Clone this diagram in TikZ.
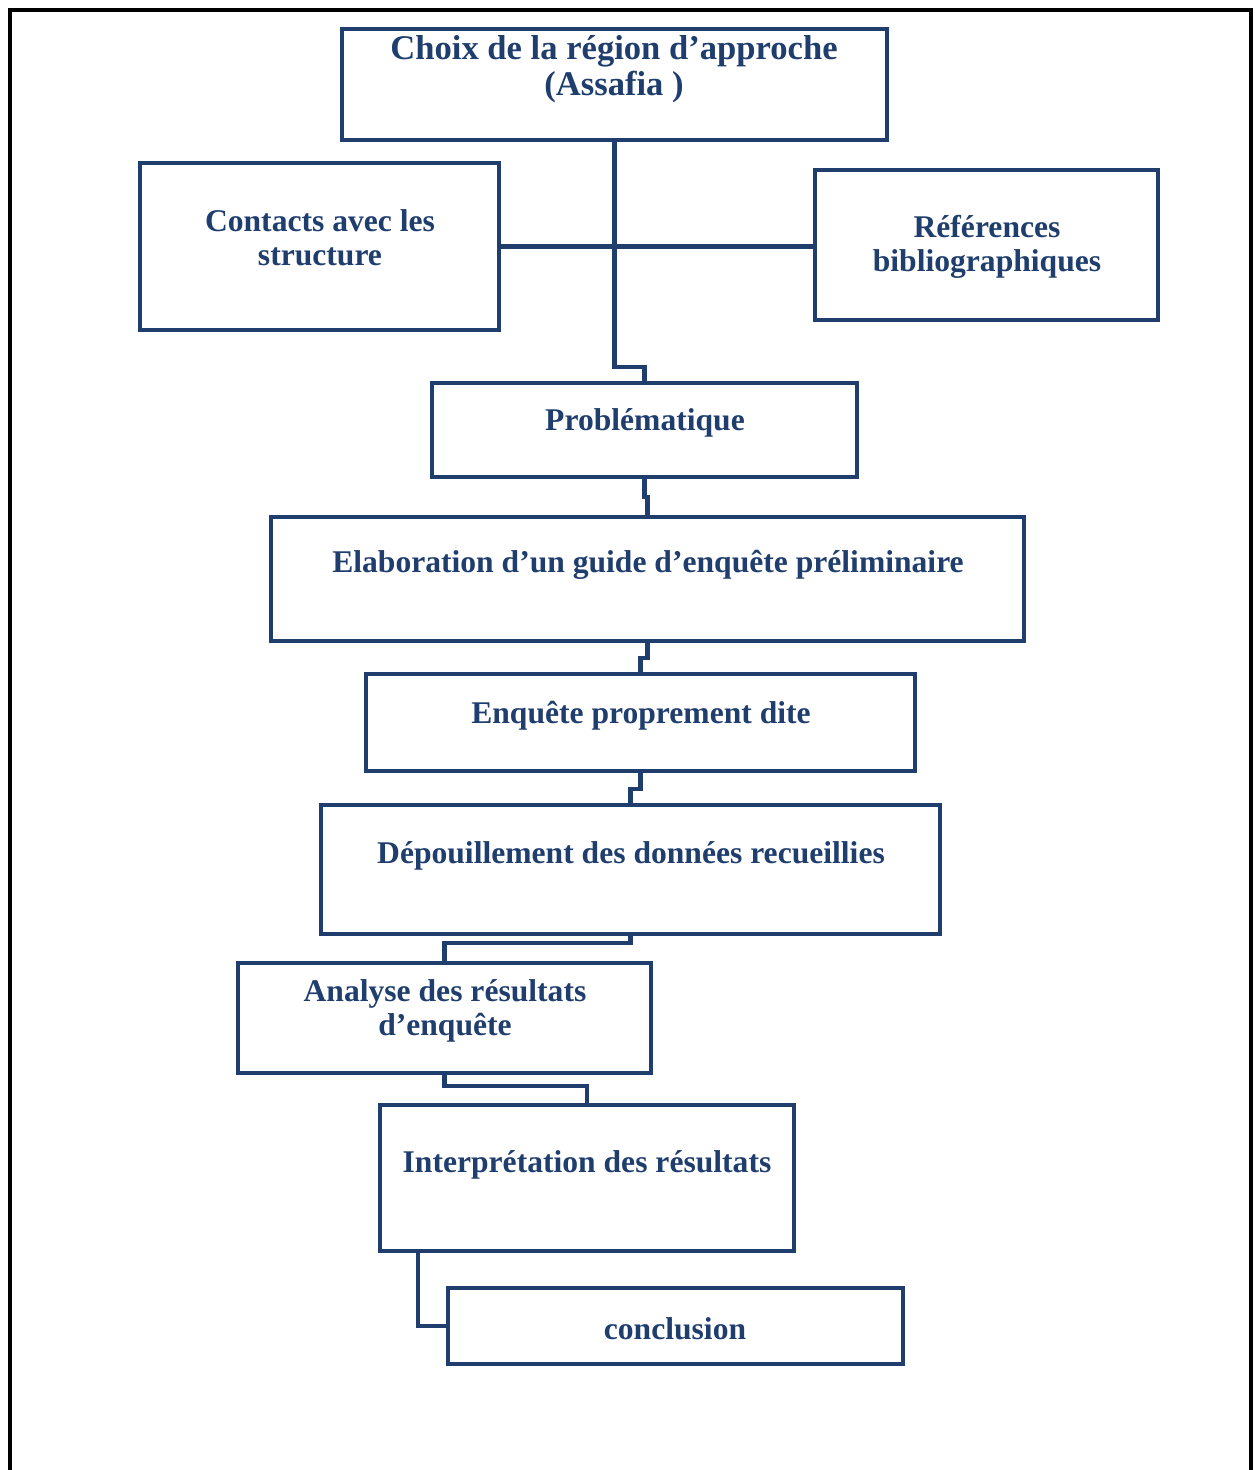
\documentclass[tikz,border=0pt]{standalone}
\usepackage{fontspec}
\setmainfont{Liberation Serif}
\definecolor{navy}{RGB}{31,62,110}
\begin{document}
\begin{tikzpicture}[x=0.5pt,y=-0.5pt,
  box/.style={draw=navy,line width=2.2pt,rectangle,inner sep=0pt},
  txt/.style={text=navy,font=\fontsize{15.8}{17}\selectfont\bfseries,align=center,inner sep=0pt},
  bigtxt/.style={txt,font=\fontsize{17.3}{18}\selectfont\bfseries},
  conn/.style={draw=navy,line width=2.2pt}]
\useasboundingbox (0,0) rectangle (1254,1470);
\draw[black,line width=2.2pt] (10,1475) -- (10,10) -- (1251,10) -- (1251,1475);
% boxes
\node[box,minimum width=272.5pt,minimum height=55.5pt] (choix) at (614.5,84.5) {};
\node[box,minimum width=179.5pt,minimum height=83.5pt] (contacts) at (319.5,246.5) {};
\node[box,minimum width=171.5pt,minimum height=75pt] (refs) at (986.5,245) {};
\node[box,minimum width=212.5pt,minimum height=47pt] (prob) at (644.5,430) {};
\node[box,minimum width=376.5pt,minimum height=62pt] (elab) at (647.5,579) {};
\node[box,minimum width=274.5pt,minimum height=48.5pt] (enq) at (640.5,722.5) {};
\node[box,minimum width=309.5pt,minimum height=64.5pt] (dep) at (630.5,869.5) {};
\node[box,minimum width=206.5pt,minimum height=55pt] (ana) at (444.5,1018) {};
\node[box,minimum width=207pt,minimum height=73pt] (int) at (587,1178) {};
\node[box,minimum width=227.5pt,minimum height=38pt] (concl) at (675.5,1326) {};
% texts
\node[bigtxt] (t1) at (614,69) {Choix de la région d’approche\\(Assafia )};
\node[txt] (t2) at (320,238) {Contacts avec les\\structure};
\node[txt] (t3) at (987,247) {Références\\bibliographiques};
\node[txt] (t4) at (645,423) {Problématique};
\node[txt] (t5) at (648,565) {Elaboration d’un guide d’enquête préliminaire};
\node[txt] (t6) at (641,716) {Enquête proprement dite};
\node[txt] (t7) at (631,856) {Dépouillement des données recueillies};
\node[txt] (t8) at (445,1011) {Analyse des résultats\\d’enquête};
\node[txt] (t9) at (587,1165) {Interprétation des résultats};
\node[txt] (t10) at (675,1329) {conclusion};
% connectors
\draw[conn] (choix.south) -- ++(0,225) -| (prob.north);
\draw[conn] (contacts.east) -- (contacts.east -| refs.west);
\draw[conn] (prob.south) -- ++(0,18) -| (elab.north);
\draw[conn] (elab.south) -- ++(0,15) -| (enq.north);
\draw[conn] (enq.south) -- ++(0,16) -| (dep.north);
\draw[conn] (dep.south) -- ++(0,7) -| (ana.north);
\draw[conn] (ana.south) -- ++(0,11) -| (int.north);
\draw[conn] ([xshift=20pt]int.south west) |- (concl.west);
\end{tikzpicture}
\end{document}
